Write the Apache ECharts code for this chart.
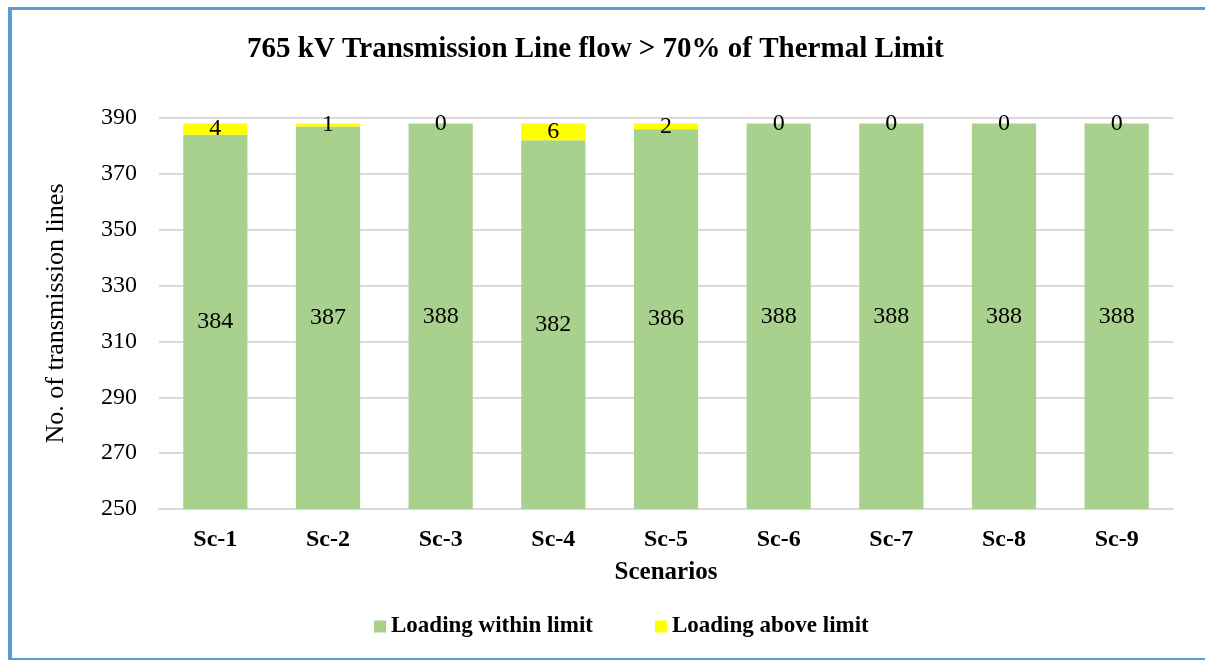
<!DOCTYPE html>
<html>
<head>
<meta charset="utf-8">
<script src="https://cdn.jsdelivr.net/npm/echarts@6/dist/echarts.min.js"></script>
<style>
  html, body { margin: 0; padding: 0; background: #fff; }
  #frame {
    position: absolute; left: 8px; top: 7px; width: 1300px; height: 653px;
    border-left: 4px solid #5b9bd5; border-top: 3px solid #5b9bd5; border-bottom: 2px solid #5b9bd5;
    box-sizing: border-box;
  }
  #mychart { position: absolute; left: 0; top: 0; width: 1205px; height: 661px; }
</style>
</head>
<body>
<div id="frame"></div>
<div id="mychart"></div>
<script>
  var categories = ['Sc-1', 'Sc-2', 'Sc-3', 'Sc-4', 'Sc-5', 'Sc-6', 'Sc-7', 'Sc-8', 'Sc-9'];
  var withinLimit = [384, 387, 388, 382, 386, 388, 388, 388, 388];
  var aboveLimit = [4, 1, 0, 6, 2, 0, 0, 0, 0];
  var yTicks = [250, 270, 290, 310, 330, 350, 370, 390];

  var serif = '"Liberation Serif", "Times New Roman", serif';

  var myChart = echarts.init(document.getElementById('mychart'));
  var opt = {
    animation: false,
    textStyle: { fontFamily: serif, color: '#000' },
    title: {
      text: '765 kV Transmission Line flow > 70% of Thermal Limit',
      left: 242,
      top: 30,
      textStyle: { fontFamily: serif, fontSize: 29, fontWeight: 'bold', color: '#000' }
    },
    legend: {
      data: ['Loading within limit', 'Loading above limit'],
      top: 610,
      left: 369,
      itemWidth: 12,
      itemHeight: 12,
      itemGap: 62,
      icon: 'rect',
      textStyle: { fontFamily: serif, fontSize: 23, fontWeight: 'bold', color: '#000' }
    },
    grid: { left: 159, right: 32, top: 118, bottom: 152 },
    xAxis: {
      type: 'category',
      data: categories,
      name: 'Scenarios',
      nameLocation: 'middle',
      nameGap: 51,
      nameTextStyle: { fontFamily: serif, fontSize: 25, fontWeight: 'bold', color: '#000' },
      axisTick: { show: false },
      axisLine: { lineStyle: { color: '#d9d9d9', width: 2 } },
      axisLabel: { fontFamily: serif, fontSize: 24, fontWeight: 'bold', color: '#000', margin: 19 }
    },
    yAxis: {
      type: 'value',
      min: yTicks[0],
      max: yTicks[yTicks.length - 1],
      interval: 20,
      name: 'No. of transmission lines',
      nameLocation: 'middle',
      nameGap: 90,
      nameTextStyle: { fontFamily: serif, fontSize: 26, color: '#000' },
      axisLine: { show: false },
      axisTick: { show: false },
      axisLabel: { fontFamily: serif, fontSize: 24, color: '#000', margin: 22 },
      splitLine: { lineStyle: { color: '#d9d9d9', width: 2 } }
    },
    series: [
      {
        name: 'Loading within limit',
        type: 'bar',
        stack: 'total',
        data: withinLimit,
        barWidth: '57%',
        itemStyle: { color: '#a9d18e' },
        label: {
          show: true, position: 'inside',
          fontFamily: serif, fontSize: 24, color: '#000'
        }
      },
      {
        name: 'Loading above limit',
        type: 'bar',
        stack: 'total',
        data: aboveLimit,
        barWidth: '57%',
        itemStyle: { color: '#ffff00' },
        label: {
          show: true, position: 'inside',
          fontFamily: serif, fontSize: 24, color: '#000'
        }
      }
    ]
  };
  myChart.setOption(opt);
</script>
</body>
</html>
